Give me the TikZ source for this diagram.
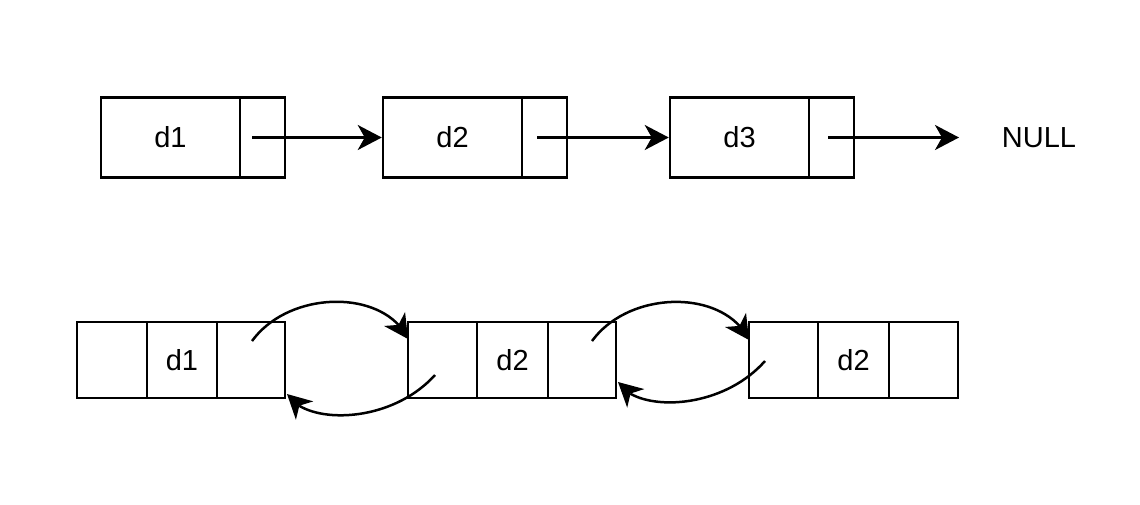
\documentclass[tikz,border=0pt]{standalone}
\usepackage{fontspec}
\setmainfont{Liberation Sans}
\usetikzlibrary{arrows.meta,bending}
\begin{document}
\begin{tikzpicture}[x=1pt,y=-1pt,
  cell/.style={draw,line width=2.5pt,inner sep=0pt,minimum height=80pt,font=\fontsize{29}{34}\selectfont},
  bcell/.style={draw,line width=2.5pt,inner sep=0pt,minimum height=76pt,font=\fontsize{29}{34}\selectfont},
  link/.style={line width=2.5pt,-{Stealth[length=24pt,width=25pt,inset=7pt,flex]}},
  lbl/.style={font=\fontsize{29}{34}\selectfont}]
\useasboundingbox (0,0) rectangle (1140,504);
% top row
\node[cell,minimum width=139pt] (t1d) at (170.5,137.5) {d1};
\node[cell,minimum width=45pt] (t1p) at (262.5,137.5) {};
\node[cell,minimum width=139pt] (t2d) at (452.5,137.5) {d2};
\node[cell,minimum width=45pt] (t2p) at (544.5,137.5) {};
\node[cell,minimum width=139pt] (t3d) at (739.5,137.5) {d3};
\node[cell,minimum width=45pt] (t3p) at (831.5,137.5) {};
\node[lbl] (null) at (1039,137.5) {NULL};
\coordinate (s1) at (252,137.5);
\coordinate (s2) at (537,137.5);
\coordinate (s3) at (828,137.5);
\coordinate (e3) at (959,137.5);
\draw[link] (s1) -- (t2d.west);
\draw[link] (s2) -- (t3d.west);
\draw[link] (s3) -- (e3);
% bottom row
\node[bcell,minimum width=70pt] (a1) at (112,360) {};
\node[bcell,minimum width=70pt] (a2) at (182,360) {d1};
\node[bcell,minimum width=68pt] (a3) at (251,360) {};
\node[bcell,minimum width=69pt] (b1) at (442.5,360) {};
\node[bcell,minimum width=71pt] (b2) at (512.5,360) {d2};
\node[bcell,minimum width=68pt] (b3) at (582,360) {};
\node[bcell,minimum width=69pt] (c1) at (783.5,360) {};
\node[bcell,minimum width=71pt] (c2) at (853.5,360) {d2};
\node[bcell,minimum width=69pt] (c3) at (923.5,360) {};
\coordinate (f1s) at (252,341);
\coordinate (f1e) at (408,339);
\coordinate (r1s) at (435,375);
\coordinate (r1e) at (287,394);
\coordinate (f2s) at (592,341);
\coordinate (f2e) at (749,340);
\coordinate (r2s) at (765,361);
\coordinate (r2e) at (618,382);
\draw[link] (f1s) .. controls (290,289) and (385,289) .. (f1e);
\draw[link] (r1s) .. controls (390,425) and (305,425) .. (r1e);
\draw[link] (f2s) .. controls (630,289) and (725,289) .. (f2e);
\draw[link] (r2s) .. controls (720,412) and (635,412) .. (r2e);
\end{tikzpicture}
\end{document}
